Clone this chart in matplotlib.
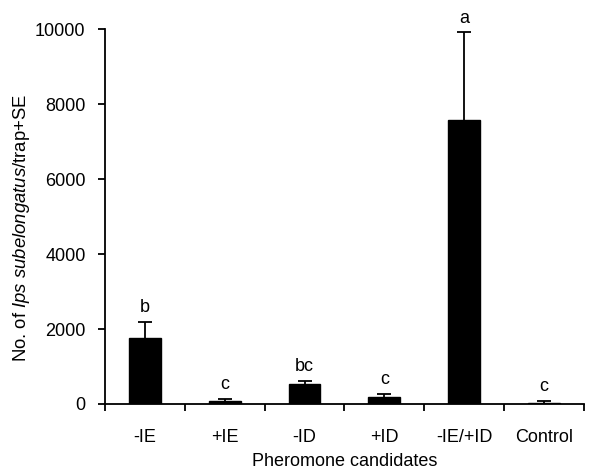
import matplotlib
matplotlib.use("Agg")
import matplotlib.pyplot as plt
import numpy as np

categories = ["-IE", "+IE", "-ID", "+ID", "-IE/+ID", "Control"]
means = [1770, 85, 530, 185, 7570, 35]
se = [430, 50, 85, 85, 2340, 45]
letters = ["b", "c", "bc", "c", "a", "c"]

plt.rcParams['font.family'] = ['Liberation Sans', 'DejaVu Sans']
plt.rcParams['mathtext.fontset'] = 'custom'
plt.rcParams['mathtext.rm'] = 'Liberation Sans'
plt.rcParams['mathtext.it'] = 'Liberation Sans:italic'

FS = 13

fig = plt.figure(figsize=(6, 4.69), dpi=100)
ax = fig.add_axes([0.175, 0.1386, 0.798, 0.7995])

x = np.arange(len(categories))
ax.bar(x, means, width=0.4, color='black', edgecolor='black', zorder=2)
eb = ax.errorbar(x, means, yerr=[np.zeros(len(se)), se], fmt='none', ecolor='black',
                 elinewidth=1.3, capsize=5, capthick=1.3, zorder=3)
caps = eb[1]
if len(caps) == 2:
    caps[0].set_visible(False)
for xi, m, s, l in zip(x, means, se, letters):
    ax.annotate(l, (xi, m + s), xytext=(0, 4), textcoords='offset points',
                ha='center', va='bottom', fontsize=FS)

ax.set_xlim(-0.5, len(categories) - 0.5)
ax.set_ylim(0, 10000)
ax.set_yticks([0, 2000, 4000, 6000, 8000, 10000])
ax.set_xticks(x)
ax.set_xticklabels(categories, fontsize=FS)
ax.set_xticks(np.arange(len(categories) + 1) - 0.5, minor=True)
ax.tick_params(axis='x', which='major', length=0, pad=18)
ax.tick_params(axis='x', which='minor', length=5, width=1.3, direction='out')
ax.tick_params(axis='y', length=5, width=1.3, labelsize=FS, pad=9)
ax.spines['top'].set_visible(False)
ax.spines['right'].set_visible(False)
ax.spines['left'].set_linewidth(1.3)
ax.spines['bottom'].set_linewidth(1.3)

ax.set_ylabel(r"No. of $\mathit{Ips\ subelongatus}$/trap+SE", fontsize=13.3)
ax.yaxis.set_label_coords(-0.152, 0.469)
ax.set_xlabel("Pheromone candidates", fontsize=FS, labelpad=5)

fig.savefig("out.png", dpi=100)
